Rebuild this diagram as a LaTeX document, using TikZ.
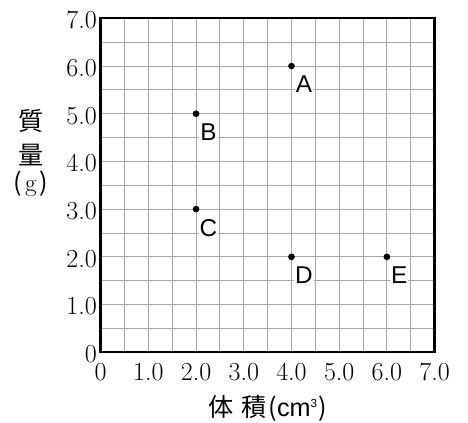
\documentclass[tikz,border=0pt]{standalone}
\usepackage{fontspec}
\newfontfamily\labfont{Liberation Sans}
\newfontfamily\cjk{Noto Sans CJK JP}
\tikzset{
  gridline/.style={draw=black!35, line width=0.55pt},
  frame/.style={draw=black, line width=1.4pt},
  ticklab/.style={inner sep=1pt, font=\fontsize{15.5}{18}\selectfont},
  ptdot/.style={circle, fill=black, inner sep=0pt, minimum size=0.14cm},
  ptlab/.style={fill=white, inner sep=0.6pt, font=\labfont\fontsize{14.5}{17}\selectfont},
  axtitle/.style={inner sep=0pt, font=\fontsize{15}{18}\selectfont},
}
\begin{document}
\begin{tikzpicture}

 \useasboundingbox (-2.11,-1.474) rectangle (7.70,7.384);

	%grid and frame
 \draw[gridline, step=0.5] (0,0) grid (7,7);
 \draw[frame] (0,0) rectangle (7,7);

	%tick labels
    \foreach \i/\num/\name in {0/0/x0,1/1.0/x1,2/2.0/x2,3/3.0/x3,4/4.0/x4,5/5.0/x5,6/6.0/x6,7/7.0/x7}{
         \node[ticklab] (\name) at (\i, -0.42) {\num};
    }
    \foreach \i/\num/\name in {0/0/y0,1/1.0/y1,2/2.0/y2,3/3.0/y3,4/4.0/y4,5/5.0/y5,6/6.0/y6,7/7.0/y7}{
         \node[ticklab, anchor=east] (\name) at (-0.04, \i-0.04) {\num};
    }

	%axis titles
 \node[axtitle] (mass1) at (-1.46, 4.84) {\cjk 質};
 \node[axtitle] (mass2) at (-1.46, 4.13) {\cjk 量};
 \node[axtitle] (massu) at (-1.46, 3.54) {{\cjk (}\kern0.12em g\kern0.12em{\cjk )}};
 \node[axtitle] (vol) at (3.5, -1.18) {\cjk 体\hspace{0.3em}積\hspace{0.08em}({\labfont cm\textsuperscript{\fontsize{7}{7}\selectfont 3}})};

	%points
    \foreach \n/\px/\py in {A/4/6, B/2/5, C/2/3, D/4/2, E/6/2}{
         \node[ptdot] (p\n) at (\px, \py) {};
         \node[ptlab] (\n) at (\px+0.26, \py-0.39) {\n};
    }

\end{tikzpicture}
\end{document}
